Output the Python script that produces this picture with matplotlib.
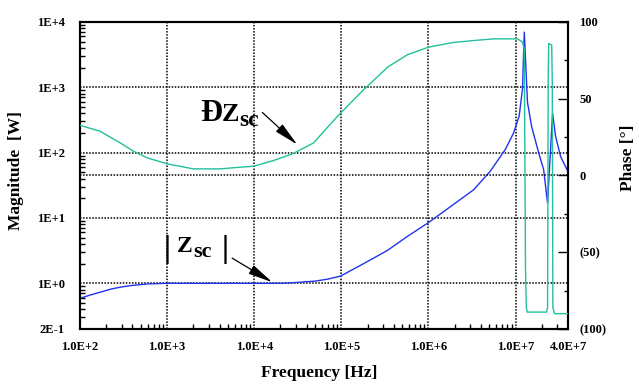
import matplotlib
matplotlib.use("Agg")
import matplotlib.pyplot as plt
from matplotlib.ticker import FixedLocator, LogLocator, NullFormatter, MultipleLocator

plt.rcParams['font.family'] = ['Liberation Serif', 'DejaVu Serif']
plt.rcParams['font.weight'] = 'bold'

# magnitude |Zsc| (ohm) vs frequency
freq_mag = [1e2, 1.3e2, 1.7e2, 2.3e2, 3e2, 4e2, 6e2, 1e3, 3e3, 1e4, 2e4, 3e4, 5e4, 7e4,
            9.8e4, 1.8e5, 3.4e5, 5.7e5, 1e6, 1.9e6, 3.3e6, 5.1e6, 7.6e6, 9.5e6, 1.1e7,
            1.2e7, 1.26e7, 1.37e7, 1.53e7, 1.84e7, 2.1e7, 2.33e7, 2.66e7, 2.88e7,
            3.29e7, 4.06e7]
mag = [0.59, 0.66, 0.73, 0.82, 0.88, 0.93, 0.98, 1.0, 1.0, 1.0, 1.0, 1.03, 1.08, 1.16,
       1.29, 2.0, 3.2, 5.2, 8.5, 15.8, 27, 51.6, 111, 200, 363,
       930, 7000, 590, 250, 100, 55, 17, 400, 178,
       87, 49]

# phase (deg) vs frequency
freq_ph = [1.0e2, 1.7e2, 2.9e2, 4.1e2, 5.9e2, 1.0e3, 2.0e3, 4.0e3, 6.9e3, 9.8e3, 1.66e4,
           2.8e4, 4.8e4, 7.1e4, 9.8e4, 1.8e5, 3.4e5, 5.7e5, 1.0e6, 1.9e6, 3.3e6, 5.6e6,
           1.05e7, 1.2e7, 1.26e7, 1.3e7, 1.33e7, 1.36e7, 2.27e7, 2.33e7, 2.37e7, 2.4e7,
           2.6e7, 2.64e7, 2.68e7, 2.8e7, 4.0e7]
phase = [32.7, 28.8, 21.2, 15.8, 11.5, 7.6, 4.3, 4.3, 5.4, 6.0, 9.7,
         14.3, 21.2, 32.0, 40.7, 55.8, 70.6, 78.6, 83.6, 86.6, 87.9, 89,
         89, 87, 82, -60, -86, -89, -89, -86, 60, 86,
         85, 60, -86, -90, -90]

x_ticks = [1e2, 1e3, 1e4, 1e5, 1e6, 1e7, 4e7]
x_labels = ['1.0E+2', '1.0E+3', '1.0E+4', '1.0E+5', '1.0E+6', '1.0E+7', '4.0E+7']
y_ticks = [0.2, 1, 10, 100, 1000, 10000]
y_labels = ['2E-1', '1E+0', '1E+1', '1E+2', '1E+3', '1E+4']
ph_ticks = [-100, -50, 0, 50, 100]
ph_labels = ['(100)', '(50)', '0', '50', '100']

fig = plt.figure(figsize=(6.39, 3.91), dpi=100)
ax = fig.add_axes([0.1252, 0.1586, 0.7637, 0.7852])
ax2 = ax.twinx()

ax.set_xscale('log')
ax.set_yscale('log')
ax.set_xlim(1e2, 4e7)
ax.set_ylim(0.2, 1e4)
ax2.set_ylim(-100, 100)

# dotted grid at decades and at phase 0
grid_kw = dict(color='black', linestyle=(0, (1, 1)), linewidth=1.1, zorder=1)
for xv in [1e3, 1e4, 1e5, 1e6, 1e7]:
    ax.axvline(xv, **grid_kw)
for yv in [1, 10, 100, 1000]:
    ax.axhline(yv, **grid_kw)
ax2.axhline(0, **grid_kw)

ax.plot(freq_mag, mag, color='#2233ee', linewidth=1.0, zorder=3)
ax2.plot(freq_ph, phase, color='#22c09c', linewidth=1.0, zorder=3)

# ticks
ax.xaxis.set_major_locator(FixedLocator(x_ticks))
ax.set_xticklabels(x_labels)
ax.xaxis.set_minor_locator(LogLocator(base=10, subs=range(2, 10), numticks=20))
ax.xaxis.set_minor_formatter(NullFormatter())
ax.yaxis.set_major_locator(FixedLocator(y_ticks))
ax.set_yticklabels(y_labels)
ax.yaxis.set_minor_locator(LogLocator(base=10, subs=range(2, 10), numticks=20))
ax.yaxis.set_minor_formatter(NullFormatter())
ax.tick_params(which='both', direction='in', labelsize=9, top=False, right=False)
ax.tick_params(which='major', length=0)
ax.tick_params(which='minor', length=3.5, width=1)
ax.tick_params(axis='x', pad=9)
ax.tick_params(axis='y', pad=11)

ax2.yaxis.set_major_locator(FixedLocator(ph_ticks))
ax2.set_yticklabels(ph_labels)
ax2.yaxis.set_minor_locator(MultipleLocator(25))
ax2.tick_params(which='both', direction='in', labelsize=9, pad=8)
ax2.tick_params(which='major', length=7, width=1)
ax2.tick_params(which='minor', length=3, width=1)

for a in (ax, ax2):
    for lab in a.get_xticklabels() + a.get_yticklabels():
        lab.set_fontweight('bold')
    for sp in a.spines.values():
        sp.set_linewidth(1.5)
        sp.set_color('black')

ax.set_xlabel('Frequency [Hz]', fontsize=12.5, fontweight='bold')
ax.xaxis.set_label_coords(0.49, -0.117)
ax.set_ylabel('Magnitude  [W]', fontsize=12.5, fontweight='bold')
ax.yaxis.set_label_coords(-0.115, 0.515)
ax2.set_ylabel('Phase [°]', fontsize=12.5, fontweight='bold', rotation=90)
ax2.yaxis.set_label_coords(1.107, 0.557)

# annotation: phase label
txt = dict(fontweight='bold', va='baseline', ha='left', zorder=5)
ax.text(2.39e3, 300, 'Ð', fontsize=22, **txt)
ax.text(4.28e3, 300, 'Z', fontsize=19, **txt)
ax.text(6.8e3, 258, 'sc', fontsize=17, **txt)

# annotation: magnitude label
ax.text(1.0e3, 3.3, '|', fontsize=23, fontweight='bold', ha='center', va='center')
ax.text(4.64e3, 3.3, '|', fontsize=23, fontweight='bold', ha='center', va='center')
ax.text(1.3e3, 3.0, 'Z', fontsize=17, **txt)
ax.text(2.02e3, 2.55, 'sc', fontsize=16, **txt)

arrow_kw = dict(arrowstyle='-|>,head_length=1.5,head_width=0.3', color='black',
                lw=0.9, shrinkA=0, shrinkB=0, mutation_scale=10)
ax.annotate('', xy=(3.12e4, 133), xytext=(1.24e4, 412), arrowprops=arrow_kw)
ax.annotate('', xy=(1.61e4, 1.04), xytext=(5.58e3, 2.43), arrowprops=arrow_kw)

fig.savefig('out.png', dpi=100)
